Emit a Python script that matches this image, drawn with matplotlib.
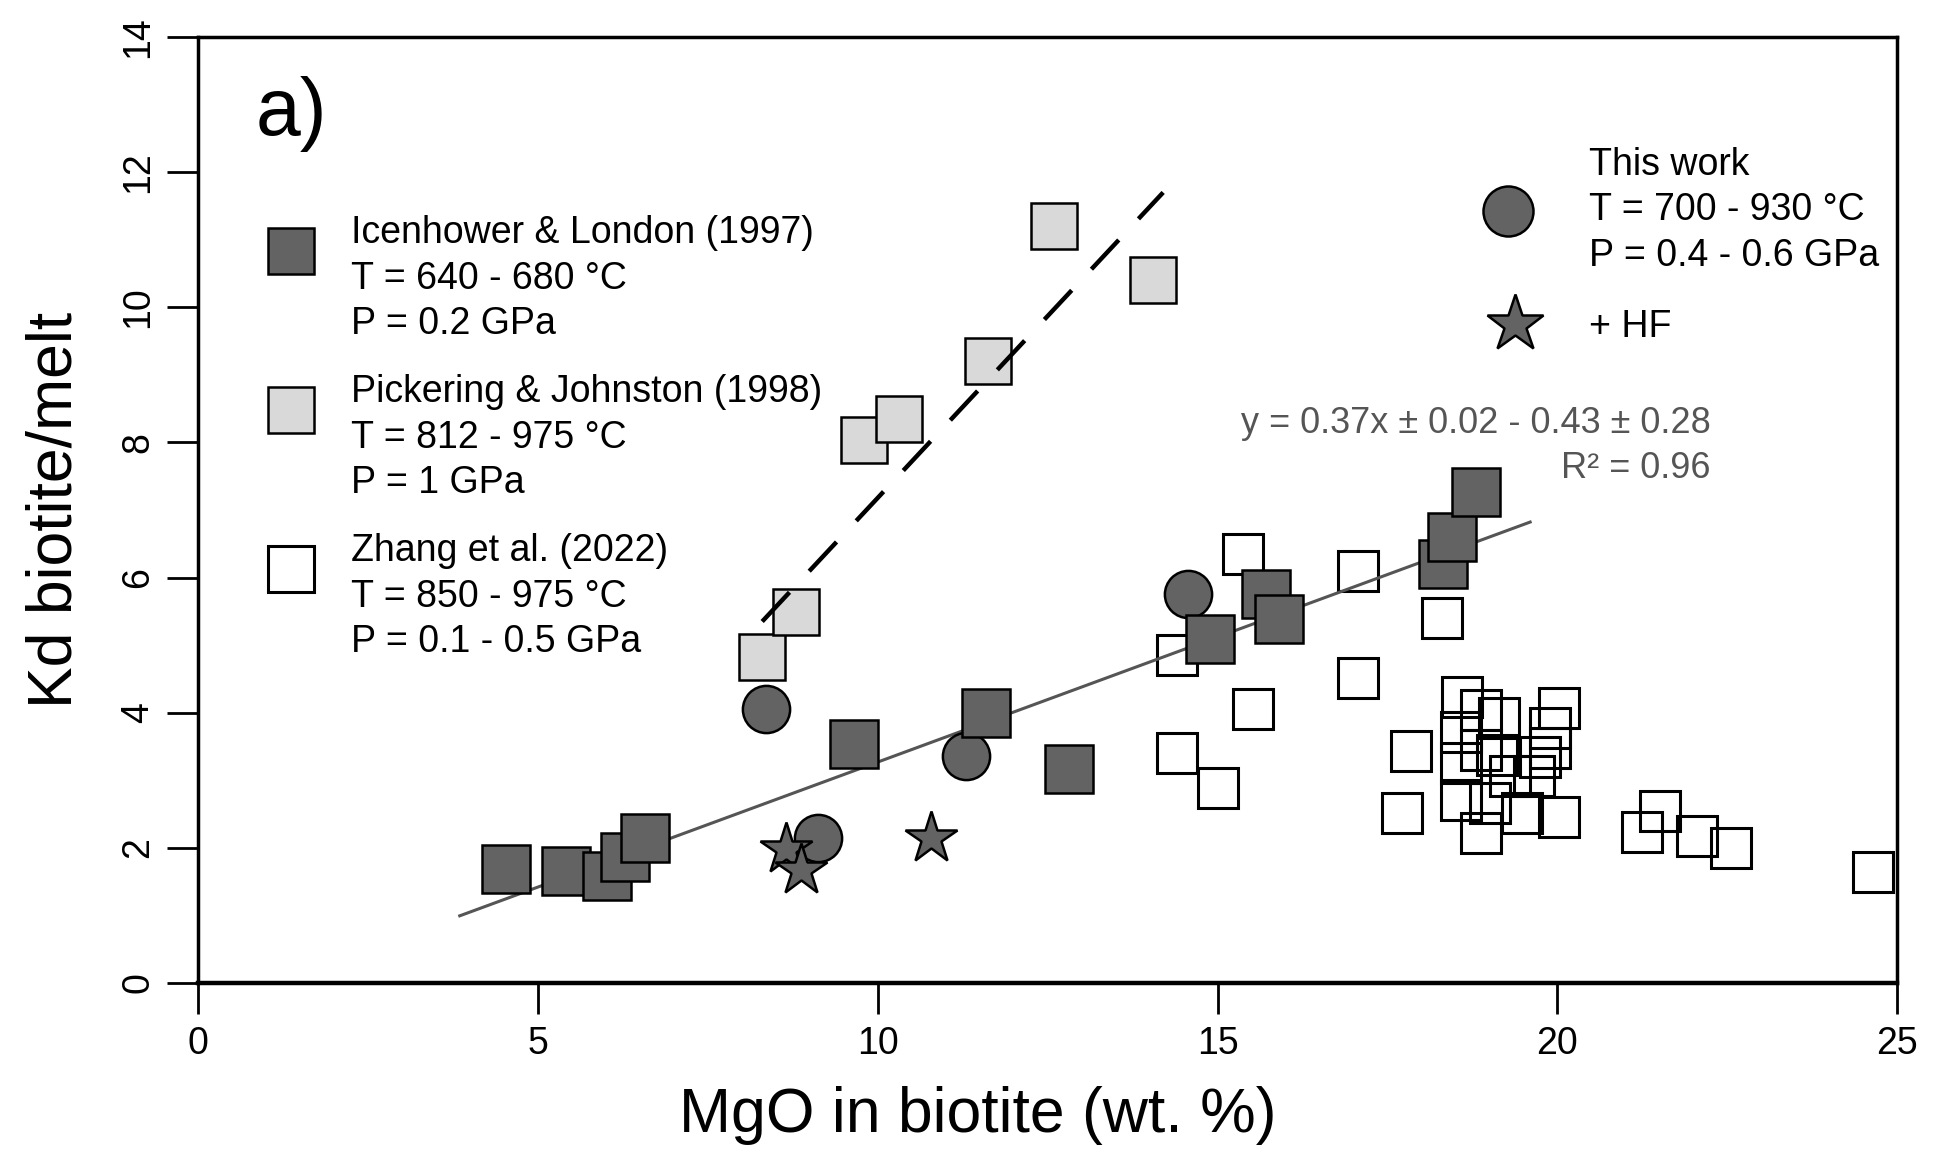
import numpy as np
import matplotlib
matplotlib.use("Agg")
import matplotlib.pyplot as plt
from matplotlib.lines import Line2D

plt.rcParams['font.family'] = ['Liberation Sans', 'DejaVu Sans']

# Icenhower & London (1997)
icen_x = [4.53, 5.41, 6.02, 6.28, 6.58, 9.65, 11.59, 12.81, 14.89, 15.72, 15.91, 18.32, 18.45, 18.80]
icen_y = [1.69, 1.66, 1.58, 1.87, 2.14, 3.54, 4.00, 3.17, 5.09, 5.76, 5.39, 6.20, 6.60, 7.27]

# Pickering & Johnston (1998)
pick_x = [8.30, 8.80, 9.80, 10.31, 11.62, 12.59, 14.05]
pick_y = [4.83, 5.49, 8.04, 8.35, 9.21, 11.21, 10.40]

# Zhang et al. (2022)
zhang_x = [15.38, 14.40, 17.06, 18.31, 17.06, 15.52, 14.40, 15.00, 17.85, 17.71,
           18.59, 18.87, 19.14, 18.58, 18.87, 18.58, 19.11, 20.02, 19.89, 19.89,
           19.75, 19.65, 19.30, 18.58, 19.01, 19.48, 20.02, 18.87,
           21.24, 21.51, 22.05, 22.55, 24.64]
zhang_y = [6.35, 4.86, 6.10, 5.40, 4.51, 4.05, 3.40, 2.88, 3.44, 2.51,
           4.24, 4.04, 3.92, 3.72, 3.45, 3.25, 3.38, 4.07, 3.77, 3.48,
           3.35, 3.06, 3.06, 2.71, 2.66, 2.51, 2.46, 2.22,
           2.24, 2.54, 2.18, 2.00, 1.65]

# This work
work_x = [8.36, 9.12, 11.30, 14.56]
work_y = [4.05, 2.15, 3.36, 5.75]

# This work + HF
hf_x = [8.65, 8.87, 10.78]
hf_y = [1.98, 1.67, 2.15]

# regression y = 0.37x - 0.43
fit_slope = 0.37
fit_intercept = -0.43
fit_x = np.array([3.85, 19.6])

# Pickering trend (dashed)
dash_x = [8.3, 14.2]
dash_y = [5.35, 11.7]

dark = '#636363'
light = '#d9d9d9'

fig = plt.figure(figsize=(19.44, 11.5), dpi=100)
ax = fig.add_axes([0.1019, 0.1452, 0.874, 0.8226])

ax.plot(zhang_x, zhang_y, 's', ms=29, mfc='none', mec='black', mew=2.2, zorder=2)
ax.plot(fit_x, fit_slope * fit_x + fit_intercept, '-', color='#555555', lw=2.2, zorder=3)
ax.plot(pick_x, pick_y, 's', ms=33, mfc=light, mec='black', mew=1.8, zorder=4)
ax.plot(dash_x, dash_y, '-', color='black', lw=3.2, dashes=(9, 6.5), zorder=5)
ax.plot(work_x, work_y, 'o', ms=34, mfc=dark, mec='black', mew=1.8, zorder=6)
ax.plot(icen_x, icen_y, 's', ms=34, mfc=dark, mec='black', mew=1.8, zorder=7)
ax.plot(hf_x, hf_y, '*', ms=39, mfc=dark, mec='black', mew=1.8, zorder=8)

ax.set_xlim(0, 25)
ax.set_ylim(0, 14)
ax.set_xticks([0, 5, 10, 15, 20, 25])
ax.set_yticks([0, 2, 4, 6, 8, 10, 12, 14])
ax.tick_params(direction='out', length=22, width=2, labelsize=27, pad=9)
ax.tick_params(axis='y', labelrotation=90, pad=8)
for lab in ax.get_yticklabels():
    lab.set_va('center')
for s in ax.spines.values():
    s.set_linewidth(2.5)
ax.spines['bottom'].set_linewidth(3.2)

ax.set_xlabel('MgO in biotite (wt. %)', fontsize=45)
ax.xaxis.set_label_coords(0.459, -0.109)
ax.set_ylabel('Kd biotite/melt', fontsize=45)
ax.yaxis.set_label_coords(-0.067, 0.5)

ax.text(0.034, 0.919, 'a)', transform=ax.transAxes, ha='left', va='center', fontsize=58)

ax.text(0.890, 0.591, 'y = 0.37x ± 0.02 - 0.43 ± 0.28', transform=ax.transAxes,
        ha='right', va='center', fontsize=26, color='#555555')
ax.text(0.890, 0.544, 'R² = 0.96', transform=ax.transAxes,
        ha='right', va='center', fontsize=26, color='#555555')

# legends
h_icen = Line2D([], [], ls='none', marker='s', ms=33, mfc=dark, mec='black', mew=1.8)
h_pick = Line2D([], [], ls='none', marker='s', ms=33, mfc=light, mec='black', mew=1.8)
h_zhang = Line2D([], [], ls='none', marker='s', ms=33, mfc='white', mec='black', mew=2.2)
leg1 = ax.legend([h_icen, h_pick, h_zhang],
                 ['Icenhower & London (1997)\nT = 640 - 680 °C\nP = 0.2 GPa',
                  'Pickering & Johnston (1998)\nT = 812 - 975 °C\nP = 1 GPa',
                  'Zhang et al. (2022)\nT = 850 - 975 °C\nP = 0.1 - 0.5 GPa'],
                 loc='upper left', bbox_to_anchor=(0.037, 0.8115), frameon=False,
                 fontsize=27, handlelength=1.6, handletextpad=0.79, handleheight=2.64,
                 labelspacing=0.85, borderpad=0, borderaxespad=0)
for t in leg1.get_texts():
    t.set_linespacing(1.34)
# icons sit between the first and second text line
for h in leg1.legend_handles:
    h.set_ydata(np.asarray(h.get_ydata()) + 12.5)
ax.add_artist(leg1)

h_work = Line2D([], [], ls='none', marker='o', ms=36, mfc=dark, mec='black', mew=1.8)
h_hf = Line2D([], [], ls='none', marker='*', ms=43, mfc=dark, mec='black', mew=1.8)
leg2 = ax.legend([h_work, h_hf],
                 ['This work\nT = 700 - 930 °C\nP = 0.4 - 0.6 GPa', '+ HF'],
                 loc='upper left', bbox_to_anchor=(0.749, 0.884), frameon=False,
                 fontsize=27, handlelength=2.0, handletextpad=1.15,
                 labelspacing=0.93, borderpad=0, borderaxespad=0)
for t in leg2.get_texts():
    t.set_linespacing(1.34)
leg2.legend_handles[1].set_xdata(np.asarray(leg2.legend_handles[1].get_xdata()) + 5)

fig.savefig('out.png', dpi=100)
